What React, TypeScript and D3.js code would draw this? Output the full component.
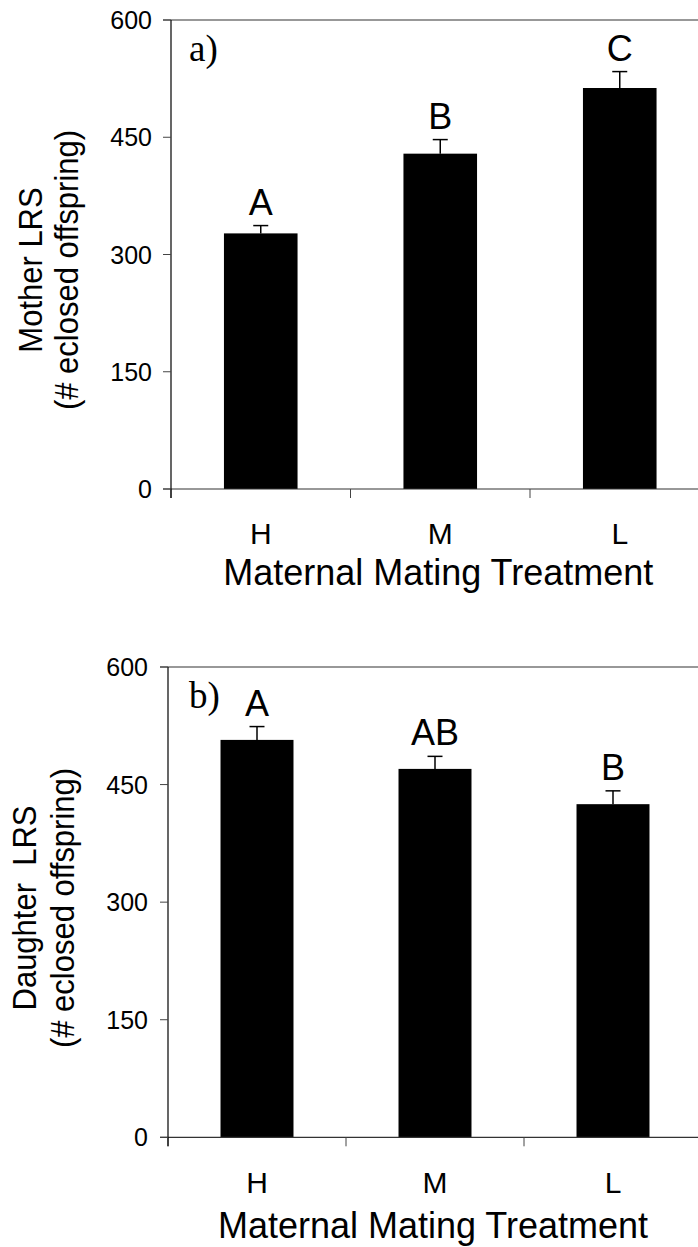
import React from 'react';
import * as d3 from 'd3';

const categories = ['H', 'M', 'L'];
const motherMeans = [327, 429, 513];
const motherErrors = [10, 18, 21];
const motherLetters = ['A', 'B', 'C'];
const daughterMeans = [507, 470, 425];
const daughterErrors = [17, 16, 17];
const daughterLetters = ['A', 'AB', 'B'];
const yTicks = [0, 150, 300, 450, 600];
const xTitle = 'Maternal Mating Treatment';

type PanelProps = {
  means: number[];
  errors: number[];
  letters: string[];
  panelLabel: string;
  title1: string;
  title2: string;
  x0: number;
  bw: number;
  yTop: number;
  yBottom: number;
  tickLabelX: number;
  catY: number;
  titleY: number;
  yt1X: number;
  yt2X: number;
  ytCenter: number;
  panelLabelY: number;
};

const sans = 'Arial, "Liberation Sans", Helvetica, sans-serif';
const serif = '"Times New Roman", "Liberation Serif", Times, serif';

function Panel(p: PanelProps) {
  const x = d3.scaleBand<string>().domain(categories).range([p.x0, p.x0 + 3 * p.bw]).padding(0);
  const y = d3.scaleLinear().domain([0, 600]).range([p.yBottom, p.yTop]);
  const barW = p.bw * 0.41;
  const tickEdges = [0, 1, 2].map((i) => p.x0 + i * p.bw);
  return (
    <g>
      <line x1={p.x0 - 8} x2={720} y1={y(600)} y2={y(600)} stroke="#333" strokeWidth={1.2} />
      {categories.map((c, i) => {
        const cx = (x(c) as number) + x.bandwidth() / 2;
        const top = y(p.means[i]);
        const cap = y(p.means[i] + p.errors[i]);
        return (
          <g key={c}>
            <rect x={cx - barW / 2} y={top} width={barW} height={y(0) - top} fill="#000" />
            <line x1={cx} x2={cx} y1={top} y2={cap} stroke="#000" strokeWidth={1.5} />
            <line x1={cx - 7.5} x2={cx + 7.5} y1={cap} y2={cap} stroke="#000" strokeWidth={1.5} />
            <text x={cx} y={cap - 11} textAnchor="middle" fontFamily={sans} fontSize={36}>
              {p.letters[i]}
            </text>
            <text x={cx} y={p.catY} textAnchor="middle" fontFamily={sans} fontSize={30}>
              {c}
            </text>
          </g>
        );
      })}
      <line x1={p.x0 - 8} x2={720} y1={y(0)} y2={y(0)} stroke="#333" strokeWidth={1.2} />
      {tickEdges.map((tx, i) => (
        <line key={i} x1={tx} x2={tx} y1={y(0)} y2={y(0) + 9} stroke="#444" strokeWidth={1} />
      ))}
      <line x1={p.x0} x2={p.x0} y1={y(600)} y2={y(0) + 9} stroke="#000" strokeWidth={1.2} />
      {yTicks.map((t) => (
        <g key={t}>
          <line x1={p.x0 - 8} x2={p.x0} y1={y(t)} y2={y(t)} stroke="#444" strokeWidth={1} />
          <text x={p.tickLabelX} y={y(t)} dy="0.36em" textAnchor="end" fontFamily={sans} fontSize={25}>
            {t}
          </text>
        </g>
      ))}
      <text x={p.x0 + 3 * p.bw / 2 - 2} y={p.titleY} textAnchor="middle" fontFamily={sans} fontSize={36}>
        {xTitle}
      </text>
      <text x={189} y={p.panelLabelY} fontFamily={serif} fontSize={37}>
        {p.panelLabel}
      </text>
      <text
        transform={`translate(${p.yt1X},${p.ytCenter}) rotate(-90) scale(1,1.08)`}
        textAnchor="middle"
        fontFamily={sans}
        fontSize={31}
        style={{ whiteSpace: 'pre' }}
      >
        {p.title1}
      </text>
      <text
        transform={`translate(${p.yt2X},${p.ytCenter}) rotate(-90) scale(1,1.08)`}
        textAnchor="middle"
        fontFamily={sans}
        fontSize={31}
      >
        {p.title2}
      </text>
    </g>
  );
}

export default function App() {
  return (
    <svg
      width={698}
      height={1247}
      viewBox="0 0 698 1247"
      style={{ position: 'absolute', left: 0, top: 0, background: '#fff' }}
    >
      <rect x={0} y={0} width={698} height={1247} fill="#fff" />
      <Panel
        means={motherMeans}
        errors={motherErrors}
        letters={motherLetters}
        panelLabel="a)"
        title1="Mother LRS"
        title2="(# eclosed offspring)"
        x0={171}
        bw={179.5}
        yTop={20}
        yBottom={489}
        tickLabelX={152}
        catY={544}
        titleY={585}
        yt1X={42}
        yt2X={78}
        ytCenter={270}
        panelLabelY={61}
      />
      <Panel
        means={daughterMeans}
        errors={daughterErrors}
        letters={daughterLetters}
        panelLabel="b)"
        title1="Daughter  LRS"
        title2="(# eclosed offspring)"
        x0={168}
        bw={178}
        yTop={667}
        yBottom={1137.3}
        tickLabelX={148}
        catY={1193}
        titleY={1238}
        yt1X={36}
        yt2X={74}
        ytCenter={908}
        panelLabelY={708}
      />
    </svg>
  );
}
